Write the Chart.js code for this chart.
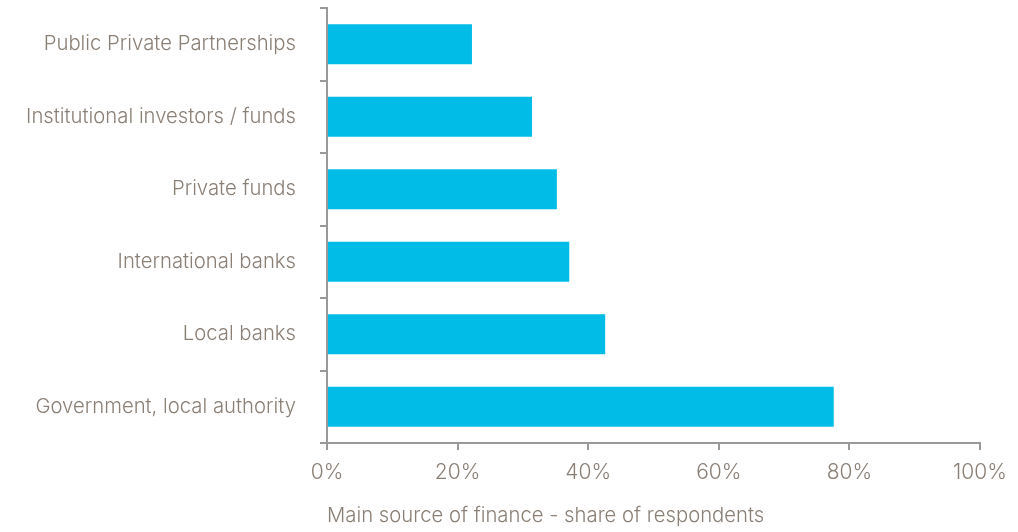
<!DOCTYPE html>
<html>
<head>
<meta charset="utf-8">
<script src="https://cdn.jsdelivr.net/npm/chart.js@4/dist/chart.umd.min.js"></script>
<style>
  html, body { margin: 0; padding: 0; background: #fff; }
  #wrap { width: 1018px; height: 532px; }
</style>
</head>
<body>
<div id="wrap"><canvas id="chart" width="1018" height="532"></canvas></div>
<script>
// categories top to bottom
const categories = [
    'Public Private Partnerships',
    'Institutional investors / funds',
    'Private funds',
    'International banks',
    'Local banks',
    'Government, local authority'
];
// share of respondents (%)
const shares = [22.2, 31.4, 35.2, 37.1, 42.6, 77.6];
const xTicks = [0, 20, 40, 60, 80, 100];

const textColor = '#8a7f75';
const axisColor = '#999999';

new Chart(document.getElementById('chart'), {
    type: 'bar',
    data: {
        labels: categories,
        datasets: [{
            data: shares,
            backgroundColor: '#00bce6',
            categoryPercentage: 1,
            barPercentage: 0.55
        }]
    },
    options: {
        indexAxis: 'y',
        responsive: false,
        animation: false,
        layout: { padding: { top: 8, right: 38, left: 0, bottom: 0 } },
        plugins: { legend: { display: false }, tooltip: { enabled: false } },
        scales: {
            y: {
                grid: { drawOnChartArea: false, drawTicks: true, tickLength: 7, color: axisColor, lineWidth: 2 },
                border: { color: axisColor, width: 2 },
                ticks: { color: textColor, font: { family: 'Inter', size: 20.3, weight: 300 }, padding: 24 },
                afterFit: (s) => { s.width = 327; s.paddingTop = 0; s.paddingBottom = 0; }
            },
            x: {
                min: 0,
                max: 100,
                afterBuildTicks: (s) => { s.ticks = xTicks.map(v => ({ value: v })); },
                grid: { drawOnChartArea: false, drawTicks: true, tickLength: 7, color: axisColor, lineWidth: 2 },
                border: { color: axisColor, width: 2 },
                ticks: { color: textColor, font: { family: 'Inter', size: 21, weight: 300 }, padding: 10,
                    callback: (v) => v + '%' },
                title: { display: true, text: 'Main source of finance - share of respondents', align: 'start',
                    color: textColor, font: { family: 'Inter', size: 20.3, weight: 300 }, padding: { top: 23 } },
                afterFit: (s) => { s.height = 89; }
            }
        }
    }
});
</script>
</body>
</html>
